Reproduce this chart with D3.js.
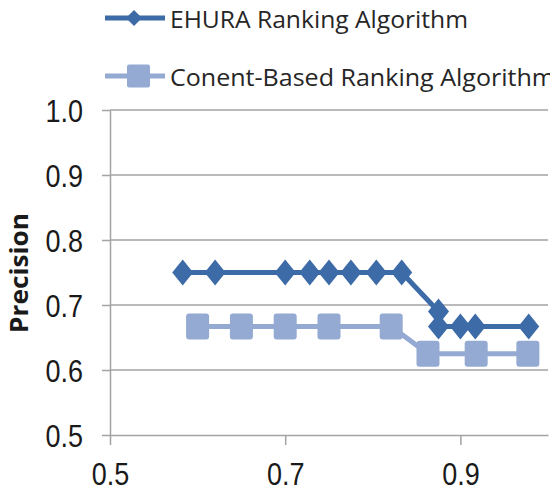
<!DOCTYPE html>
<meta charset="utf-8">
<script src="https://d3js.org/d3.v7.min.js"></script>
<style>
  body { margin: 0; background: #fff; }
</style>
<div id="chart"></div>
<script>

// data
const recallEhura = [0.583, 0.62, 0.70, 0.728, 0.75, 0.775, 0.804, 0.833, 0.875, 0.875, 0.90, 0.917, 0.978];
const precEhura   = [0.75, 0.75, 0.75, 0.75, 0.75, 0.75, 0.75, 0.75, 0.69, 0.667, 0.667, 0.667, 0.667];
const recallContent = [0.60, 0.65, 0.70, 0.75, 0.821, 0.863, 0.918, 0.977];
const precContent   = [0.667, 0.667, 0.667, 0.667, 0.667, 0.625, 0.625, 0.625];
const seriesNames = ["EHURA Ranking Algorithm", "Conent-Based Ranking Algorithm"];
const yTicks = [0.5, 0.6, 0.7, 0.8, 0.9, 1.0];
const xTicks = [0.5, 0.7, 0.9];

const width = 550, height = 493;
const dark = "#3d6ba7", light = "#94aad2", axisGrey = "#a3a3a3";

const svg = d3.select("#chart").append("svg")
  .attr("width", width)
  .attr("height", height);

const x = d3.scaleLinear().domain([0.5, 1.0]).range([110, 548]);
const y = d3.scaleLinear().domain([0.5, 1.0]).range([435, 110]);

// horizontal gridlines
svg.append("g")
  .selectAll("line")
  .data(yTicks.filter(d => d > 0.5))
  .join("line")
    .attr("x1", x(0.5))
    .attr("x2", x(1.0))
    .attr("y1", d => y(d))
    .attr("y2", d => y(d))
    .attr("stroke", axisGrey)
    .attr("stroke-width", 1.5);

// Y axis
const yAxis = svg.append("g")
  .attr("transform", `translate(${x(0.5)},0)`)
  .call(d3.axisLeft(y).tickValues(yTicks).tickFormat(d3.format(".1f")).tickSize(8).tickSizeOuter(0));
yAxis.selectAll("path, line").attr("stroke", axisGrey).attr("stroke-width", 1.5);
yAxis.selectAll("text")
  .attr("x", -27).attr("dy", null)
  .attr("transform", "translate(0,11.5) scale(1,1.15)")
  .attr("fill", "#1a1a1a")
  .style("font-family", "'Liberation Sans', Arial, sans-serif")
  .style("font-size", "27px");

// X axis
const xAxis = svg.append("g")
  .attr("transform", `translate(0,${y(0.5)})`)
  .call(d3.axisBottom(x).tickValues(xTicks).tickFormat(d3.format(".1f")).tickSize(10).tickSizeOuter(0));
xAxis.selectAll("path, line").attr("stroke", axisGrey).attr("stroke-width", 1.5);
xAxis.selectAll("text")
  .attr("y", 0).attr("dy", null)
  .attr("transform", "translate(0,50) scale(1,1.15)")
  .attr("fill", "#1a1a1a")
  .style("font-family", "'Liberation Sans', Arial, sans-serif")
  .style("font-size", "27px");

// Y axis title
svg.append("text")
  .attr("transform", "translate(28,273) rotate(-90)")
  .attr("text-anchor", "middle")
  .attr("textLength", 120)
  .attr("lengthAdjust", "spacingAndGlyphs")
  .style("font-family", "'Open Sans', sans-serif")
  .style("font-weight", "bold")
  .style("font-size", "25px")
  .attr("fill", "#1a1a1a")
  .text("Precision");

// marker shapes
const diamond = (cx, cy, hw, hh) => `M${cx},${cy - hh}L${cx + hw},${cy}L${cx},${cy + hh}L${cx - hw},${cy}Z`;

const line = d3.line().x(d => x(d[0])).y(d => y(d[1]));

const contentPts = d3.zip(recallContent, precContent);
const ehuraPts = d3.zip(recallEhura, precEhura);

// Content-based series
svg.append("path")
  .datum(contentPts)
  .attr("d", line)
  .attr("fill", "none")
  .attr("stroke", light)
  .attr("stroke-width", 5);
svg.append("g")
  .selectAll("rect")
  .data(contentPts)
  .join("rect")
    .attr("x", d => x(d[0]) - 11.5)
    .attr("y", d => y(d[1]) - 13)
    .attr("width", 23)
    .attr("height", 26)
    .attr("rx", 3)
    .attr("fill", light);

// EHURA series
svg.append("path")
  .datum(ehuraPts)
  .attr("d", line)
  .attr("fill", "none")
  .attr("stroke", dark)
  .attr("stroke-width", 5);
svg.append("g")
  .selectAll("path")
  .data(ehuraPts)
  .join("path")
    .attr("d", d => diamond(x(d[0]), y(d[1]), 10.5, 13))
    .attr("fill", dark);

// legend
const legendY = [18, 76];
const legendCol = [dark, light];
const legendLen = [298, 385];
seriesNames.forEach((name, i) => {
  svg.append("line")
    .attr("x1", 105).attr("x2", 165)
    .attr("y1", legendY[i]).attr("y2", legendY[i])
    .attr("stroke", legendCol[i])
    .attr("stroke-width", 5);
  if (i === 0) {
    svg.append("path")
      .attr("d", diamond(134, legendY[i], 8, 8))
      .attr("fill", dark);
  } else {
    svg.append("rect")
      .attr("x", 127).attr("y", legendY[i] - 11.5)
      .attr("width", 23).attr("height", 23)
      .attr("rx", 2)
      .attr("fill", light);
  }
  svg.append("text")
    .attr("x", 170)
    .attr("y", legendY[i] + 10)
    .attr("textLength", legendLen[i])
    .attr("lengthAdjust", "spacingAndGlyphs")
    .style("font-family", "'Open Sans', sans-serif")
    .style("font-size", "23px")
    .attr("fill", "#262626")
    .text(name);
});

</script>
